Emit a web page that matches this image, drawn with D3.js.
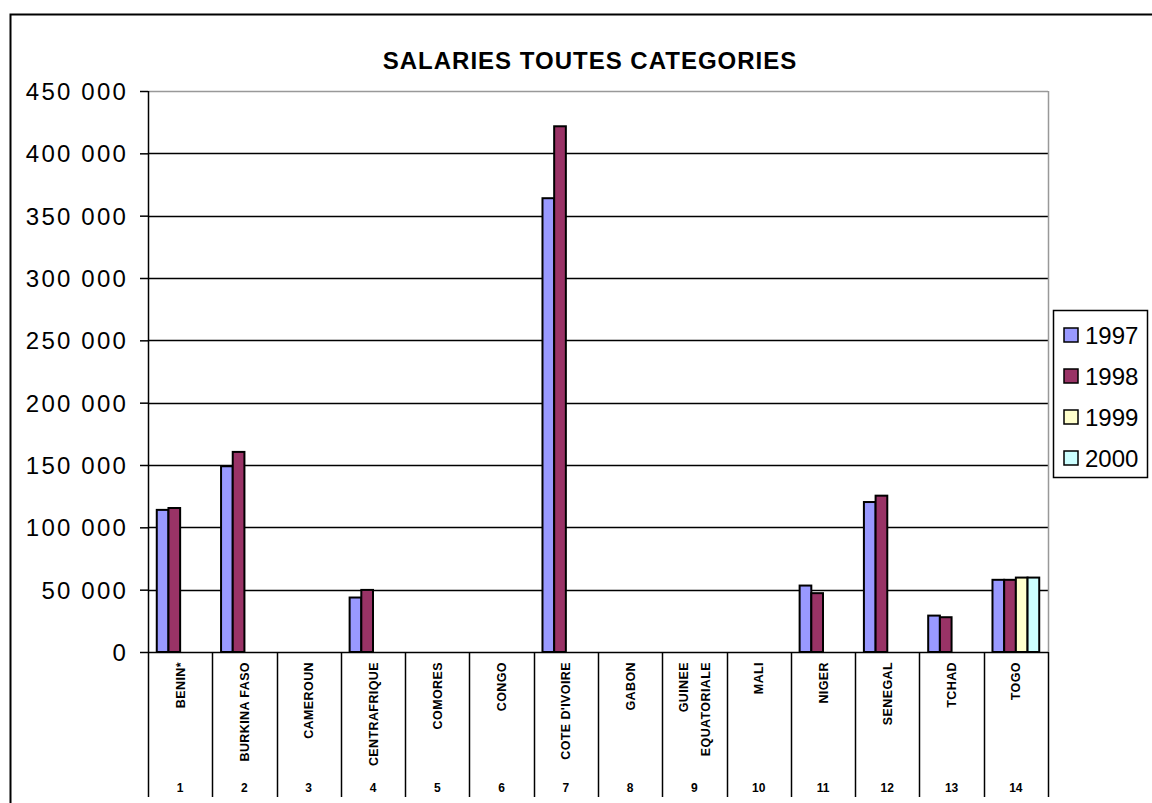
<!DOCTYPE html>
<html><head><meta charset="utf-8">
<script src="https://cdn.jsdelivr.net/npm/d3@7"></script>
<style>body{margin:0;background:#fff}svg{display:block}</style>
</head><body>
<svg id="c" width="1152" height="803"></svg>
<script>
const title = "SALARIES TOUTES CATEGORIES";
const countries = ["BENIN*","BURKINA FASO","CAMEROUN","CENTRAFRIQUE","COMORES","CONGO","COTE D'IVOIRE","GABON","GUINEE|EQUATORIALE","MALI","NIGER","SENEGAL","TCHAD","TOGO"];
const codes = ["1","2","3","4","5","6","7","8","9","10","11","12","13","14"];
const years = ["1997","1998","1999","2000"];
const colors = ["#9999FF","#993366","#FFFFCC","#CCFFFF"];
const v1997 = [114000,149000,null,43700,null,null,364000,null,null,null,53300,120300,29200,57900];
const v1998 = [115500,160500,null,49800,null,null,421700,null,null,null,47200,125400,27900,57900];
const v1999 = [null,null,null,null,null,null,null,null,null,null,null,null,null,59700];
const v2000 = [null,null,null,null,null,null,null,null,null,null,null,null,null,59700];
const series = [v1997,v1998,v1999,v2000];
const yTicks = [0,50000,100000,150000,200000,250000,300000,350000,400000,450000];

const svg = d3.select("#c");
const L=148,R=1048,T=91,B=652;
const y = d3.scaleLinear().domain([0,450000]).range([B,T]);
const x = d3.scaleBand().domain(d3.range(countries.length)).range([L,R]);
const cw = x.bandwidth();
const bw = cw/(series.length+1.5);
const xs = d3.scaleBand().domain(d3.range(series.length)).range([cw*0.75/5.5*1, cw*0.75/5.5 + bw*series.length]);

// outer frame
svg.append("rect").attr("x",10.5).attr("y",14.5).attr("width",1160).attr("height",820)
  .attr("fill","none").attr("stroke","#000").attr("stroke-width",2);

// title
svg.append("text").attr("x",590).attr("y",69).attr("text-anchor","middle")
  .attr("font-family","Liberation Sans, Arial, sans-serif").attr("font-weight","bold")
  .attr("font-size",24).attr("letter-spacing",1).text(title);

// gridlines
svg.append("g").selectAll("line").data(yTicks.filter(d=>d>0 && d<450000)).join("line")
  .attr("x1",L).attr("x2",R).attr("y1",d=>Math.round(y(d))+0.5).attr("y2",d=>Math.round(y(d))+0.5)
  .attr("stroke","#000").attr("stroke-width",1.5);
// plot border top/right gray
svg.append("line").attr("x1",L).attr("x2",R).attr("y1",T+0.5).attr("y2",T+0.5).attr("stroke","#999").attr("stroke-width",1.5);
svg.append("line").attr("x1",R+0.5).attr("x2",R+0.5).attr("y1",T).attr("y2",B).attr("stroke","#999").attr("stroke-width",1.5);

// y axis
const yAxis = d3.axisLeft(y).tickValues(yTicks).tickSize(8).tickPadding(12)
  .tickFormat(d=>d3.format(",")(d).replace(/,/g," "));
const ga = svg.append("g").attr("transform",`translate(${L},0)`).call(yAxis);
ga.select(".domain").remove();
ga.selectAll("line").attr("stroke","#000").attr("stroke-width",1.5);
ga.selectAll("text").attr("font-family","Liberation Sans, Arial, sans-serif").attr("font-size",24)
  .attr("letter-spacing",2.2).attr("fill","#000").attr("dy","0.36em");
svg.append("line").attr("x1",L+0.5).attr("x2",L+0.5).attr("y1",T).attr("y2",B).attr("stroke","#000").attr("stroke-width",1.5);

// bars
series.forEach((s,si)=>{
  svg.append("g").selectAll("rect").data(s.map((v,i)=>({v,i})).filter(d=>d.v!=null)).join("rect")
    .attr("x",d=>x(d.i)+xs(si)).attr("width",bw)
    .attr("y",d=>y(d.v)).attr("height",d=>B-y(d.v))
    .attr("fill",colors[si]).attr("stroke","#000").attr("stroke-width",2);
});

// x axis base line
svg.append("line").attr("x1",L).attr("x2",R).attr("y1",B+0.5).attr("y2",B+0.5).attr("stroke","#000").attr("stroke-width",1.5);
// category separators
const seps = d3.range(countries.length+1);
svg.append("g").selectAll("line").data(seps).join("line")
  .attr("x1",i=>Math.round(i<countries.length?x(i):R)+0.5).attr("x2",i=>Math.round(i<countries.length?x(i):R)+0.5)
  .attr("y1",B).attr("y2",797).attr("stroke","#000").attr("stroke-width",1.5);

// category labels
const gl = svg.append("g").attr("font-family","Liberation Sans, Arial, sans-serif").attr("font-weight","bold").attr("font-size",12.5);
countries.forEach((c,i)=>{
  const parts = c.split("|");
  const cx = x(i)+cw/2;
  parts.forEach((p,pi)=>{
    const off = (pi-(parts.length-1)/2)*22;
    gl.append("text").attr("transform",`translate(${cx+off+4.5},662) rotate(-90)`)
      .attr("text-anchor","end").attr("letter-spacing",0.4).text(p);
  });
  gl.append("text").attr("x",cx).attr("y",792).attr("text-anchor","middle").attr("font-size",12).text(codes[i]);
});

// legend
const lg = svg.append("g");
lg.append("rect").attr("x",1053.5).attr("y",310.5).attr("width",94).attr("height",167)
  .attr("fill","#fff").attr("stroke","#000").attr("stroke-width",1.5);
years.forEach((yr,i)=>{
  const cy = 335 + i*41;
  lg.append("rect").attr("x",1064).attr("y",cy-7).attr("width",14).attr("height",14)
    .attr("fill",colors[i]).attr("stroke","#000").attr("stroke-width",1.5);
  lg.append("text").attr("x",1085).attr("y",cy+9).attr("font-family","Liberation Sans, Arial, sans-serif")
    .attr("font-size",24).attr("letter-spacing",0).text(yr);
});
</script>
</body></html>
